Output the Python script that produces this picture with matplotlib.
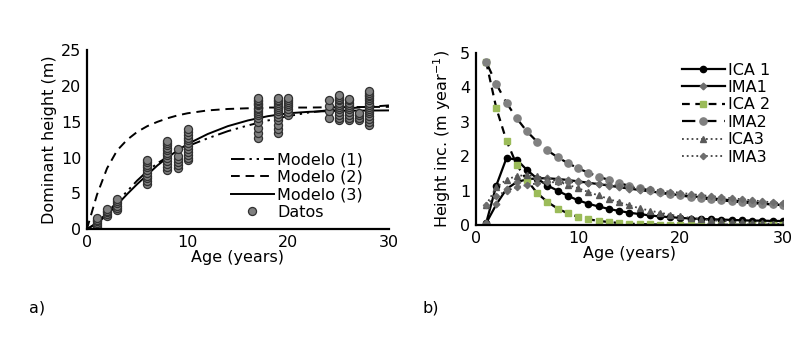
import matplotlib
matplotlib.use("Agg")
import matplotlib.pyplot as plt

plt.rcParams['font.family'] = ['DejaVu Sans']

# ---------------- Panel a data ----------------
model_age = [0, 1, 2, 3, 4, 5, 6, 7, 8, 9, 10, 12, 14, 16, 18, 20, 22, 25, 30]
modelo1 = [0, 0.9, 2.3, 3.8, 5.3, 6.8, 8.1, 9.2, 10.1, 10.9, 11.6, 12.7, 13.7, 14.5, 15.2, 15.8, 16.3, 16.8, 17.3]
modelo2 = [0, 4.8, 8.5, 11.0, 12.5, 13.6, 14.4, 15.0, 15.5, 15.9, 16.2, 16.6, 16.8, 16.9, 17.0, 17.0, 17.0, 17.05, 17.1]
modelo3 = [0, 0.8, 2.0, 3.4, 4.9, 6.3, 7.6, 8.9, 10.0, 11.0, 11.9, 13.3, 14.4, 15.2, 15.8, 16.2, 16.4, 16.55, 16.6]

datos_age = ([1] * 6 + [2] * 5 + [3] * 6 + [6] * 10 + [8] * 12 + [9] * 6 + [10] * 12 +
             [17] * 16 + [19] * 14 + [20] * 8 + [24] * 4 + [25] * 12 + [26] * 10 +
             [27] * 4 + [28] * 16)
datos_h = ([0.3, 0.6, 0.9, 1.1, 1.3, 1.5] +
           [1.8, 2.1, 2.4, 2.6, 2.8] +
           [2.7, 3.0, 3.3, 3.6, 3.9, 4.2] +
           [6.3, 6.7, 7.1, 7.5, 7.9, 8.3, 8.7, 9.0, 9.4, 9.7] +
           [8.3, 8.7, 9.1, 9.5, 9.9, 10.3, 10.7, 11.0, 11.4, 11.7, 12.0, 12.3] +
           [8.6, 9.0, 9.4, 9.8, 10.2, 11.2] +
           [9.6, 10.0, 10.4, 10.8, 11.2, 11.6, 12.0, 12.4, 12.8, 13.2, 13.6, 14.0] +
           [12.8, 13.5, 14.2, 15.0, 15.5, 15.9, 16.2, 16.5, 16.8, 17.0, 17.3, 17.5, 17.7, 17.9, 18.1, 18.3] +
           [13.5, 14.0, 14.6, 15.2, 15.7, 16.1, 16.5, 16.8, 17.1, 17.4, 17.7, 17.9, 18.1, 18.3] +
           [16.0, 16.4, 16.8, 17.2, 17.5, 17.8, 18.1, 18.3] +
           [15.6, 16.5, 17.2, 18.0] +
           [15.2, 15.6, 16.0, 16.4, 16.8, 17.1, 17.4, 17.7, 18.0, 18.2, 18.5, 18.7] +
           [15.2, 15.6, 16.0, 16.4, 16.8, 17.1, 17.4, 17.7, 18.0, 18.2] +
           [15.2, 15.6, 16.0, 16.3] +
           [14.6, 15.0, 15.4, 15.8, 16.2, 16.5, 16.8, 17.1, 17.4, 17.7, 18.0, 18.3, 18.6, 18.8, 19.1, 19.3])

# ---------------- Panel b data ----------------
age_b = list(range(1, 31))
ica1 = [0.05, 1.15, 1.95, 1.9, 1.6, 1.35, 1.15, 1.0, 0.85, 0.72, 0.62, 0.54, 0.47, 0.41, 0.36,
        0.32, 0.28, 0.25, 0.23, 0.21, 0.19, 0.18, 0.17, 0.16, 0.15, 0.14, 0.13, 0.13, 0.12, 0.12]
ima1 = [0.05, 0.6, 1.05, 1.25, 1.33, 1.36, 1.36, 1.34, 1.31, 1.27, 1.23, 1.19, 1.15, 1.1, 1.06,
        1.02, 0.98, 0.94, 0.9, 0.87, 0.84, 0.81, 0.78, 0.75, 0.72, 0.69, 0.66, 0.63, 0.6, 0.58]
ica2 = [4.75, 3.4, 2.45, 1.75, 1.3, 0.93, 0.67, 0.48, 0.34, 0.24, 0.17, 0.12, 0.09, 0.06, 0.04,
        0.03, 0.02, 0.015, 0.01, 0.01, 0.01, 0.01, 0.01, 0.01, 0.01, 0.01, 0.01, 0.01, 0.01, 0.01]
ima2 = [4.75, 4.1, 3.55, 3.1, 2.72, 2.42, 2.17, 1.97, 1.8, 1.65, 1.52, 1.41, 1.31, 1.22, 1.14,
        1.07, 1.01, 0.95, 0.9, 0.86, 0.82, 0.78, 0.75, 0.72, 0.69, 0.66, 0.64, 0.62, 0.6, 0.58]
ica3 = [0.58, 1.1, 1.32, 1.43, 1.45, 1.42, 1.35, 1.27, 1.17, 1.07, 0.96, 0.86, 0.76, 0.66, 0.57,
        0.49, 0.42, 0.36, 0.3, 0.25, 0.21, 0.17, 0.14, 0.12, 0.1, 0.08, 0.06, 0.05, 0.04, 0.03]
ima3 = [0.58, 0.84, 1.0, 1.1, 1.17, 1.21, 1.24, 1.25, 1.25, 1.24, 1.22, 1.2, 1.17, 1.14, 1.11,
        1.07, 1.04, 1.0, 0.97, 0.94, 0.9, 0.87, 0.84, 0.81, 0.78, 0.75, 0.72, 0.69, 0.66, 0.63]

fig = plt.figure(figsize=(8.12, 3.4), dpi=100)

FS = 11.5

def style(ax):
    for s in ['top', 'right']:
        ax.spines[s].set_visible(False)
    for s in ['left', 'bottom']:
        ax.spines[s].set_linewidth(1.6)
        ax.spines[s].set_color('black')
    ax.tick_params(length=0, labelsize=FS, pad=4)

# ---- Panel a ----
ax1 = fig.add_axes([0.107, 0.326, 0.372, 0.526])
ax1.plot(model_age, modelo1, color='black', lw=1.4, dashes=(7, 2.5, 1.2, 2.5, 1.2, 2.5), label='Modelo (1)')
ax1.plot(model_age, modelo2, color='black', lw=1.4, dashes=(4.5, 3), label='Modelo (2)')
ax1.plot(model_age, modelo3, color='black', lw=1.4, label='Modelo (3)')
ax1.plot(datos_age, datos_h, ls='none', marker='o', ms=5.8, mfc='#808080', mec='#303030', mew=0.9, label='Datos')
ax1.set_xlim(0, 30)
ax1.set_ylim(0, 25)
ax1.set_xticks([0, 10, 20, 30])
ax1.set_yticks([0, 5, 10, 15, 20, 25])
style(ax1)
ax1.set_xlabel('Age (years)', fontsize=FS, labelpad=0)
ax1.set_ylabel('Dominant height (m)', fontsize=FS, labelpad=3)
ax1.legend(loc='lower right', bbox_to_anchor=(0.945, 0.0), frameon=False, fontsize=FS,
           handlelength=2.7, handletextpad=0.2, labelspacing=0.15, borderaxespad=0.2)

# ---- Panel b ----
ax2 = fig.add_axes([0.586, 0.338, 0.378, 0.506])
ax2.plot(age_b, ica1, color='black', lw=1.6, marker='o', ms=4.5, mfc='black', mec='black', label='ICA 1')
ax2.plot(age_b, ima1, color='black', lw=1.6, marker='D', ms=3.4, mfc='#6e6e6e', mec='#6e6e6e', label='IMA1')
ax2.plot(age_b, ica2, color='black', lw=1.6, dashes=(3.5, 2.5), marker='s', ms=4.6, mfc='#9bbb59', mec='#9bbb59', label='ICA 2')
ax2.plot(age_b, ima2, color='black', lw=1.6, dashes=(6, 3.5), marker='o', ms=5.2, mfc='#808080', mec='#808080', label='IMA2')
ax2.plot(age_b, ica3, color='#404040', lw=1.3, ls=':', marker='^', ms=5, mfc='#595959', mec='#595959', label='ICA3')
ax2.plot(age_b, ima3, color='#404040', lw=1.3, ls=':', marker='D', ms=3.2, mfc='#6e6e6e', mec='#6e6e6e', label='IMA3')
ax2.set_xlim(0, 30)
ax2.set_ylim(0, 5)
ax2.set_xticks([0, 10, 20, 30])
ax2.set_yticks([0, 1, 2, 3, 4, 5])
style(ax2)
ax2.set_xlabel('Age (years)', fontsize=FS, labelpad=0)
ax2.set_ylabel('Height inc. (m year$^{-1}$)', fontsize=FS, labelpad=5)
ax2.legend(loc='upper right', bbox_to_anchor=(0.99, 1.0), frameon=False, fontsize=FS,
           handlelength=2.7, handletextpad=0.2, labelspacing=0.15, borderaxespad=0.2)

fig.text(0.036, 0.08, 'a)', fontsize=FS)
fig.text(0.52, 0.08, 'b)', fontsize=FS)

fig.savefig('out.png', dpi=100)
